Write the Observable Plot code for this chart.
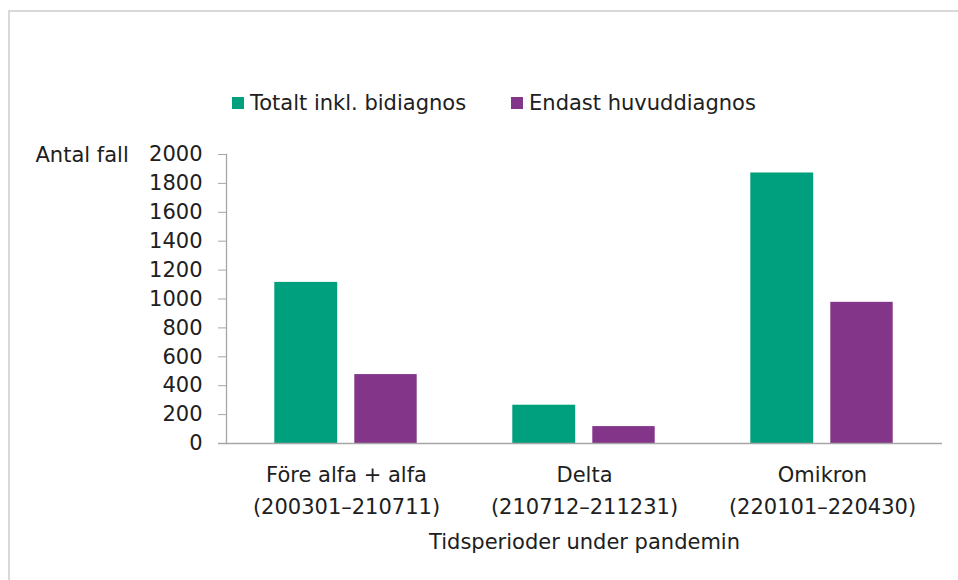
<!DOCTYPE html>
<html>
<head>
<meta charset="utf-8">
<script src="https://cdn.jsdelivr.net/npm/d3@7"></script>
<script src="https://cdn.jsdelivr.net/npm/@observablehq/plot@0.6"></script>
<style>
  html, body { margin: 0; padding: 0; background: #fff; }
  #wrap { position: relative; width: 958px; height: 580px; overflow: hidden; font-family: "DejaVu Sans", sans-serif; color: #202020; }
  #border { position: absolute; left: 8px; top: 10px; width: 1000px; height: 700px; border-left: 2px solid #d9d9d9; border-top: 2px solid #d9d9d9; }
  #legend { position: absolute; left: 232px; top: 91px; display: flex; align-items: center; font-size: 21px; line-height: 24px; white-space: nowrap; }
  #legend .sw { display: inline-block; width: 12px; height: 12px; margin-right: 6px; }
  #legend .item { display: flex; align-items: center; }
  #chart { position: absolute; left: 0; top: 140px; }
</style>
</head>
<body>
<div id="wrap">
  <div id="border"></div>
  <div id="legend"></div>
  <div id="chart"></div>
</div>
<script>
const categories = ["Före alfa + alfa\n(200301–210711)", "Delta\n(210712–211231)", "Omikron\n(220101–220430)"];
const seriesNames = ["Totalt inkl. bidiagnos", "Endast huvuddiagnos"];
const totalValues = [1115, 265, 1872];
const mainValues = [477, 117, 977];
const yTicks = [0, 200, 400, 600, 800, 1000, 1200, 1400, 1600, 1800, 2000];
const colors = ["#009f7e", "#833689"];
const yLabel = "Antal fall";
const xLabel = "Tidsperioder under pandemin";

const data = [];
categories.forEach((c, i) => {
  data.push({cat: c, series: seriesNames[0], value: totalValues[i]});
  data.push({cat: c, series: seriesNames[1], value: mainValues[i]});
});

// legend
const legend = document.getElementById("legend");
seriesNames.forEach((s, i) => {
  const item = document.createElement("span");
  item.className = "item";
  item.style.marginRight = i === 0 ? "45px" : "0";
  const sw = document.createElement("span");
  sw.className = "sw";
  sw.style.background = colors[i];
  item.appendChild(sw);
  item.appendChild(document.createTextNode(s));
  legend.appendChild(item);
});

const axisColor = "#a6a6a6";
const chart = Plot.plot({
  width: 958,
  height: 440,
  marginTop: 14,
  marginBottom: 137,
  marginLeft: 226,
  marginRight: 16,
  style: {fontFamily: "DejaVu Sans, sans-serif", fontSize: "21px", color: "#202020", background: "transparent"},
  x: {domain: categories, padding: 0, label: null},
  y: {domain: [0, 2000], label: null},
  color: {domain: seriesNames, range: colors},
  marks: [
    Plot.barY(data.filter(d => d.series === seriesNames[0]), {x: "cat", y: "value", fill: "series", insetLeft: 47.3, insetRight: 127.8}),
    Plot.barY(data.filter(d => d.series === seriesNames[1]), {x: "cat", y: "value", fill: "series", insetLeft: 127.3, insetRight: 48.3}),
    Plot.frame({anchor: "left", stroke: axisColor, strokeWidth: 1.3}),
    Plot.ruleY([0], {stroke: axisColor, strokeWidth: 1.6, insetLeft: -8}),
    Plot.axisY({ticks: yTicks, tickSize: 8, tickPadding: 16, stroke: axisColor, tickFormat: d => String(d), fontSize: 21, fill: "#202020", label: null}),
    Plot.axisX({tickSize: 0, tickPadding: 15, lineAnchor: "top", lineHeight: 1.55, fontSize: 21, fill: "#202020", label: null}),
    Plot.text([yLabel], {frameAnchor: "top-left", dx: -191, dy: -7, textAnchor: "start", lineAnchor: "top", fontSize: 21, fill: "#202020"}),
    Plot.text([xLabel], {frameAnchor: "bottom", dy: 91, lineAnchor: "top", fontSize: 21, fill: "#202020"})
  ]
});
document.getElementById("chart").appendChild(chart);
</script>
</body>
</html>
